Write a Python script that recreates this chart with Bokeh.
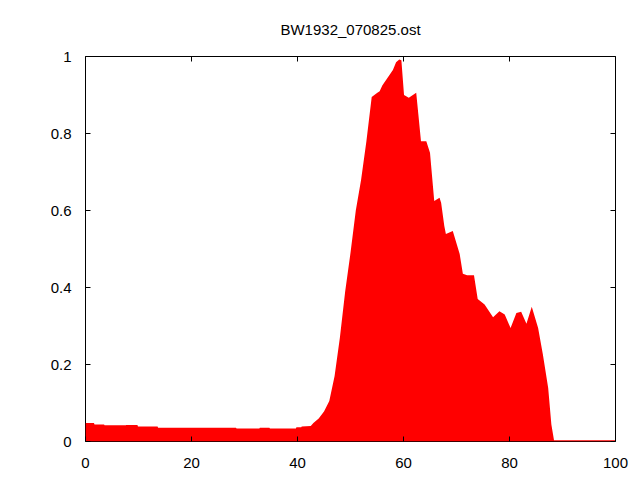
from bokeh.plotting import figure
from bokeh.models import Range1d, FixedTicker, CustomJSTickFormatter, LinearAxis, Title
from bokeh.embed import file_html
from bokeh.resources import INLINE

title_text = "BW1932_070825.ost"

xs = [0, 1.6, 1.7, 3.5, 3.6, 7.6, 7.7, 9.8, 9.9, 13.6, 13.7, 28.4, 28.5, 32.8, 32.9,
      34.7, 34.8, 39.7, 39.8, 40.7, 40.8, 42.5, 43, 44, 45, 46, 47, 48, 49, 50,
      51, 52, 53, 54, 55, 55.5, 56, 57, 58, 58.6, 59.2, 59.6, 60.1, 61, 62.4, 62.8, 63.3,
      64.3, 65, 65.8, 66.8, 67.1, 67.7, 68, 69.3, 70.6, 71.2, 72, 73.3, 74,
      75.3, 76.9, 78.1, 79.1, 80.2, 81.3, 82.2, 83.2, 84.2, 85.4, 86.3, 87.3,
      87.9, 88.4, 100]
ys = [0.048, 0.048, 0.044, 0.044, 0.042, 0.042, 0.043, 0.043, 0.039, 0.039, 0.036, 0.036, 0.034, 0.034, 0.036,
      0.036, 0.034, 0.034, 0.037, 0.037, 0.039, 0.040, 0.048, 0.060, 0.078, 0.105, 0.17, 0.27, 0.39, 0.49,
      0.60, 0.68, 0.78, 0.895, 0.905, 0.91, 0.925, 0.945, 0.965, 0.985, 0.992, 0.99, 0.90, 0.893, 0.906, 0.85, 0.78,
      0.78, 0.75, 0.625, 0.633, 0.62, 0.56, 0.539, 0.547, 0.487, 0.436, 0.432, 0.432, 0.37,
      0.356, 0.323, 0.338, 0.33, 0.295, 0.334, 0.337, 0.306, 0.35, 0.295, 0.226, 0.139,
      0.044, 0.003, 0.003]
x_ticks = [0, 20, 40, 60, 80, 100]
y_ticks = [0, 0.2, 0.4, 0.6, 0.8, 1.0]

FONT = "Liberation Sans"
FS = "15px"

p = figure(width=632, height=472, output_backend="svg", toolbar_location=None,
           x_range=Range1d(0, 100), y_range=Range1d(0, 1),
           min_border_left=85, min_border_right=17, min_border_top=56, min_border_bottom=31,
           x_axis_location=None, y_axis_location=None)
p.title.text = ""
p.grid.visible = False
p.outline_line_color = "black"
p.outline_line_width = 1
p.background_fill_color = "white"
p.border_fill_color = "white"

p.varea(x=xs, y1=[0]*len(xs), y2=ys, fill_color="#ff0000")

fmt = CustomJSTickFormatter(code="return String(Math.round(tick*10)/10);")

def mk_axis(ticks, labels):
    ax = LinearAxis(ticker=FixedTicker(ticks=ticks), formatter=fmt)
    ax.major_tick_in = 5
    ax.major_tick_out = 0
    ax.minor_tick_in = 0
    ax.minor_tick_out = 0
    ax.axis_line_color = None
    ax.major_tick_line_color = "black"
    ax.major_label_text_font = FONT
    ax.major_label_text_font_size = FS
    ax.major_label_text_color = "black"
    if not labels:
        ax.major_label_text_alpha = 0
        ax.major_label_text_font_size = "0px"
        ax.major_label_standoff = 0
    return ax

bx = mk_axis(x_ticks, True)
bx.major_label_standoff = 16
p.add_layout(bx, "below")
lx = mk_axis(y_ticks, True)
lx.major_label_standoff = 14
p.add_layout(lx, "left")
p.add_layout(mk_axis(x_ticks, False), "above")
p.add_layout(mk_axis(y_ticks, False), "right")

t = Title(text=title_text, align="center", text_font=FONT, text_font_size=FS,
          text_font_style="normal", text_color="black", standoff=37)
p.add_layout(t, "above")

open("out.html", "w").write(file_html(p, INLINE))
